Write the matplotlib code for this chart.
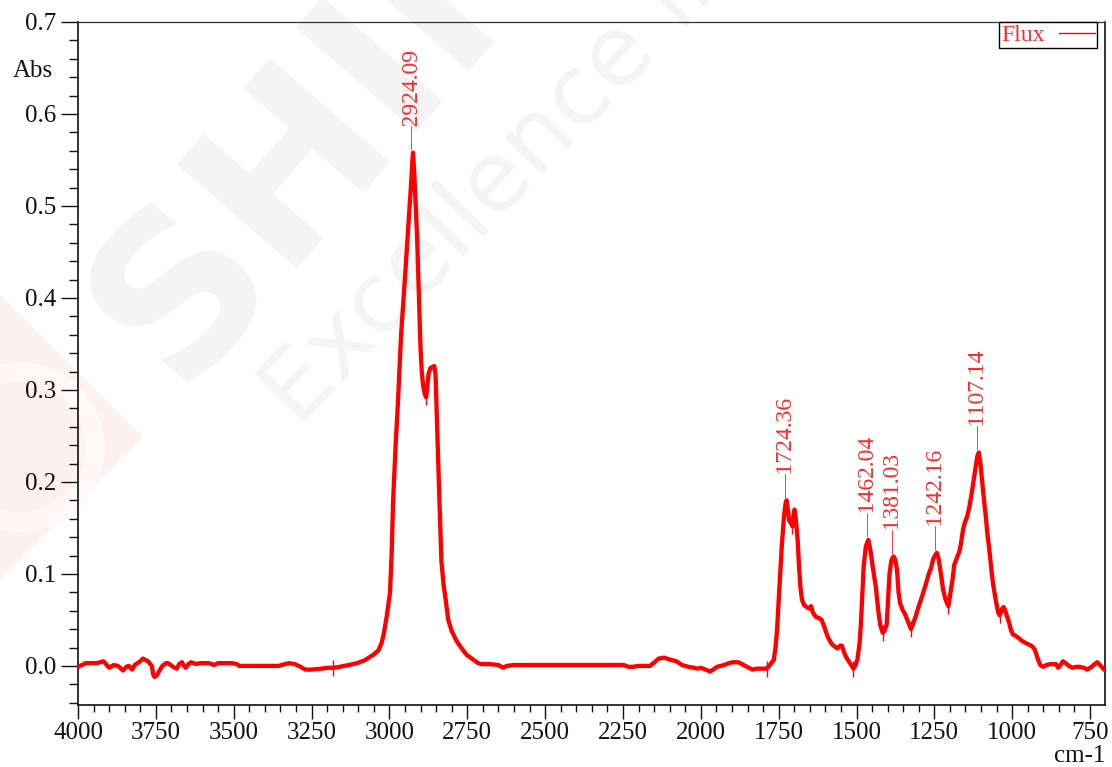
import numpy as np
import matplotlib.pyplot as plt
from matplotlib.patches import Polygon, Circle
from matplotlib.ticker import MultipleLocator, FormatStrFormatter

plt.rcParams['font.family'] = ['Liberation Serif', 'DejaVu Serif']

# FTIR spectrum of the flux sample (cm-1 vs Abs)
wavenumber = [
    4000, 3975, 3940, 3918, 3900, 3885, 3872, 3855, 3845, 3837, 3826, 3818,
    3809, 3800, 3792, 3775, 3763, 3758, 3754, 3746, 3740, 3729, 3718, 3711,
    3702, 3695, 3683, 3675, 3666, 3660, 3654, 3645, 3637, 3620, 3608, 3580,
    3563, 3550, 3505, 3490, 3482, 3440, 3402, 3356, 3335, 3322, 3304, 3285,
    3270, 3250, 3219, 3195, 3178, 3160, 3130, 3104, 3080, 3052, 3035, 3025,
    3018, 3008, 3001, 2998, 2993, 2988, 2980, 2972, 2966, 2962, 2950, 2940,
    2930, 2926, 2924.09, 2920, 2911, 2905, 2900, 2896, 2892, 2886, 2882, 2878,
    2874, 2868, 2856, 2852, 2848, 2840, 2833, 2826, 2820, 2811, 2800, 2784,
    2770, 2752, 2735, 2715, 2704, 2680, 2650, 2635, 2623, 2600, 2500, 2452,
    2407, 2300, 2248, 2232, 2218, 2200, 2163, 2152, 2135, 2118, 2100, 2078,
    2060, 2040, 2022, 2010, 2000, 1985, 1970, 1960, 1948, 1925, 1910, 1897,
    1880, 1868, 1852, 1834, 1820, 1811, 1800, 1789, 1780, 1772, 1766, 1760,
    1755, 1750, 1745, 1740, 1733, 1728, 1724.36, 1720, 1716, 1710, 1706, 1702,
    1699, 1695, 1689, 1684, 1680, 1675, 1668, 1660, 1650, 1646, 1640, 1630,
    1620, 1612, 1605, 1593, 1580, 1570, 1561, 1553, 1547, 1540, 1534, 1523,
    1515, 1510, 1504, 1497, 1490, 1486, 1481, 1477, 1470, 1462.04, 1455, 1448,
    1438, 1430, 1424, 1416, 1410, 1403, 1398, 1394, 1388, 1381.03, 1376, 1370,
    1365, 1360, 1352, 1345, 1339, 1332, 1325, 1318, 1309, 1300, 1290, 1278,
    1268, 1261, 1253, 1242.16, 1236, 1228, 1222, 1214, 1205, 1198, 1192, 1186,
    1178, 1170, 1165, 1158, 1152, 1145, 1138, 1130, 1125, 1118, 1112, 1107.14,
    1102, 1098, 1092, 1085, 1080, 1074, 1066, 1061, 1052, 1045, 1040, 1034,
    1028, 1023, 1015, 1010, 1003, 997, 990, 978, 968, 957, 945, 935,
    928, 918, 910, 901, 890, 876, 860, 852, 845, 837, 828, 818,
    807, 795, 785, 770, 759, 745, 735, 727, 718, 705, 702,
]
absorbance = [
    -0.001, 0.003, 0.003, 0.005, -0.002, 0.001, 0.000, -0.005, -0.001, 0.000, -0.004, 0.001,
    0.003, 0.005, 0.008, 0.005, 0.000, -0.010, -0.012, -0.010, -0.006, 0.000, 0.003, 0.003,
    0.001, -0.001, -0.003, 0.002, 0.004, 0.000, -0.002, 0.002, 0.004, 0.002, 0.003, 0.003,
    0.001, 0.003, 0.003, 0.002, 0.000, 0.000, 0.000, 0.000, 0.002, 0.003, 0.002, -0.001,
    -0.004, -0.004, -0.003, -0.002, -0.002, -0.001, 0.001, 0.003, 0.006, 0.012, 0.017, 0.025,
    0.035, 0.055, 0.072, 0.080, 0.120, 0.180, 0.240, 0.290, 0.335, 0.362, 0.422, 0.474,
    0.526, 0.550, 0.558, 0.535, 0.466, 0.400, 0.345, 0.320, 0.305, 0.295, 0.292, 0.305,
    0.318, 0.324, 0.326, 0.318, 0.273, 0.187, 0.114, 0.088, 0.074, 0.050, 0.038, 0.027,
    0.020, 0.012, 0.008, 0.003, 0.002, 0.002, 0.001, -0.002, 0.000, 0.001, 0.001, 0.001,
    0.001, 0.001, 0.001, -0.001, -0.001, 0.000, 0.000, 0.003, 0.008, 0.009, 0.007, 0.005,
    0.001, -0.001, -0.002, -0.003, -0.002, -0.004, -0.006, -0.004, -0.001, 0.001, 0.003, 0.004,
    0.004, 0.002, -0.001, -0.004, -0.003, -0.003, -0.003, -0.003, 0.000, 0.004, 0.006, 0.020,
    0.040, 0.070, 0.100, 0.130, 0.162, 0.176, 0.180, 0.168, 0.158, 0.155, 0.152, 0.165,
    0.170, 0.160, 0.137, 0.105, 0.085, 0.072, 0.066, 0.064, 0.062, 0.065, 0.058, 0.053,
    0.052, 0.050, 0.044, 0.032, 0.024, 0.021, 0.019, 0.022, 0.022, 0.015, 0.010, 0.004,
    0.000, -0.003, 0.000, 0.007, 0.025, 0.045, 0.080, 0.108, 0.130, 0.137, 0.125, 0.108,
    0.086, 0.060, 0.045, 0.036, 0.038, 0.045, 0.075, 0.100, 0.115, 0.119, 0.116, 0.105,
    0.080, 0.068, 0.061, 0.057, 0.052, 0.046, 0.040, 0.046, 0.055, 0.065, 0.075, 0.088,
    0.100, 0.106, 0.117, 0.123, 0.116, 0.098, 0.083, 0.072, 0.065, 0.080, 0.093, 0.110,
    0.117, 0.124, 0.132, 0.148, 0.156, 0.162, 0.172, 0.188, 0.199, 0.215, 0.228, 0.232,
    0.220, 0.206, 0.185, 0.163, 0.145, 0.128, 0.102, 0.088, 0.070, 0.058, 0.055, 0.060,
    0.064, 0.061, 0.052, 0.047, 0.038, 0.034, 0.033, 0.030, 0.027, 0.025, 0.023, 0.021,
    0.018, 0.008, 0.001, -0.001, 0.001, 0.002, 0.002, -0.002, 0.001, 0.005, 0.003, 0.000,
    -0.002, -0.001, -0.001, -0.002, -0.004, -0.001, 0.002, 0.004, 0.001, -0.004, -0.004,
]

peak_cm = [2924.09, 1724.36, 1462.04, 1381.03, 1242.16, 1107.14]
valley_cm = [3180, 2882, 1789, 1706, 1510, 1416, 1325, 1205, 1040]

wn = np.array(wavenumber)
ab = np.array(absorbance)
peak_abs = np.interp(peak_cm, wn[::-1], ab[::-1])
valley_abs = np.interp(valley_cm, wn[::-1], ab[::-1])

fig = plt.figure(figsize=(11.12, 7.67), dpi=100)

# faint background logo / watermark
fig.add_artist(Polygon([(0.128, 0.430), (0.0, 0.615), (-0.128, 0.430), (0.0, 0.245)],
                       closed=True, transform=fig.transFigure, facecolor='#fdf0f0',
                       edgecolor='none', zorder=-10))
fig.add_artist(Circle((0.2, 3.2), 0.75, transform=fig.dpi_scale_trans, facecolor='none',
                      edgecolor='#fff8f8', lw=14, zorder=-9))
fig.text(0.118, 0.545, 'SHIMADZU', fontsize=156, fontweight='bold', family='DejaVu Sans',
         color='#f4f4f4', rotation=49, rotation_mode='anchor', ha='left', va='center',
         zorder=-8)
fig.text(0.268, 0.442, 'Excellence in Science', fontsize=70, family='DejaVu Sans',
         color='#f4f4f4', rotation=46, rotation_mode='anchor', ha='left', va='baseline',
         zorder=-8)

ax = fig.add_axes([78 / 1112, 62 / 767, 1027 / 1112, 683 / 767])
ax.patch.set_alpha(0)

ax.plot(wn, ab, color='#ff0000', lw=3.1, solid_joinstyle='round', zorder=3)
ax.plot(valley_cm, valley_abs, ls='none', marker='|', ms=12, mew=1.0,
        color='#ff0000', zorder=3)

for x, y in zip(peak_cm, peak_abs):
    ax.annotate('\u2014' + f'{x:.2f}', xy=(x, y), xytext=(0, 2),
                textcoords='offset points', rotation=90, ha='center', va='bottom',
                color='#ff2a2a', fontsize=17)

ax.plot([], [], color='#ff0000', lw=1.0, label='Flux')
leg = ax.legend(loc='upper right', bbox_to_anchor=(1019 / 1027, 1.0), borderaxespad=0,
                fancybox=False, edgecolor='black', framealpha=1, markerfirst=False,
                handlelength=1.5, handletextpad=0.6, borderpad=0.1, fontsize=17)
leg.get_frame().set_linewidth(1.0)
for t in leg.get_texts():
    t.set_color('#ff2a2a')

ax.set_xlim(4000, 702)
ax.set_ylim(-0.0425, 0.7)
ax.xaxis.set_major_locator(MultipleLocator(250))
ax.xaxis.set_minor_locator(MultipleLocator(50))
ax.xaxis.set_major_formatter(FormatStrFormatter('%d'))
ax.yaxis.set_major_locator(MultipleLocator(0.1))
ax.yaxis.set_minor_locator(MultipleLocator(0.02))
ax.yaxis.set_major_formatter(FormatStrFormatter('%.1f'))

ax.tick_params(axis='both', which='both', direction='out', colors='#111111',
               labelsize=18, width=1.0)
ax.tick_params(axis='y', which='major', length=12, pad=4)
ax.tick_params(axis='y', which='minor', length=6.5)
ax.tick_params(axis='x', which='major', length=10, pad=2)
ax.tick_params(axis='x', which='minor', length=5)

for side in ['left', 'bottom', 'right']:
    ax.spines[side].set_linewidth(1.2)
    ax.spines[side].set_color('#111111')
ax.spines['top'].set_linestyle((0, (1, 1)))
ax.spines['top'].set_linewidth(0.9)
ax.spines['top'].set_color('#333333')

fig.text(13 / 1112, 1 - 71 / 767, 'Abs', fontsize=18, ha='left', va='center',
         color='#111111')
fig.text(1105 / 1112, 1 - 756 / 767, 'cm-1', fontsize=18, ha='right', va='center',
         color='#111111')

fig.savefig('out.png', dpi=100)
